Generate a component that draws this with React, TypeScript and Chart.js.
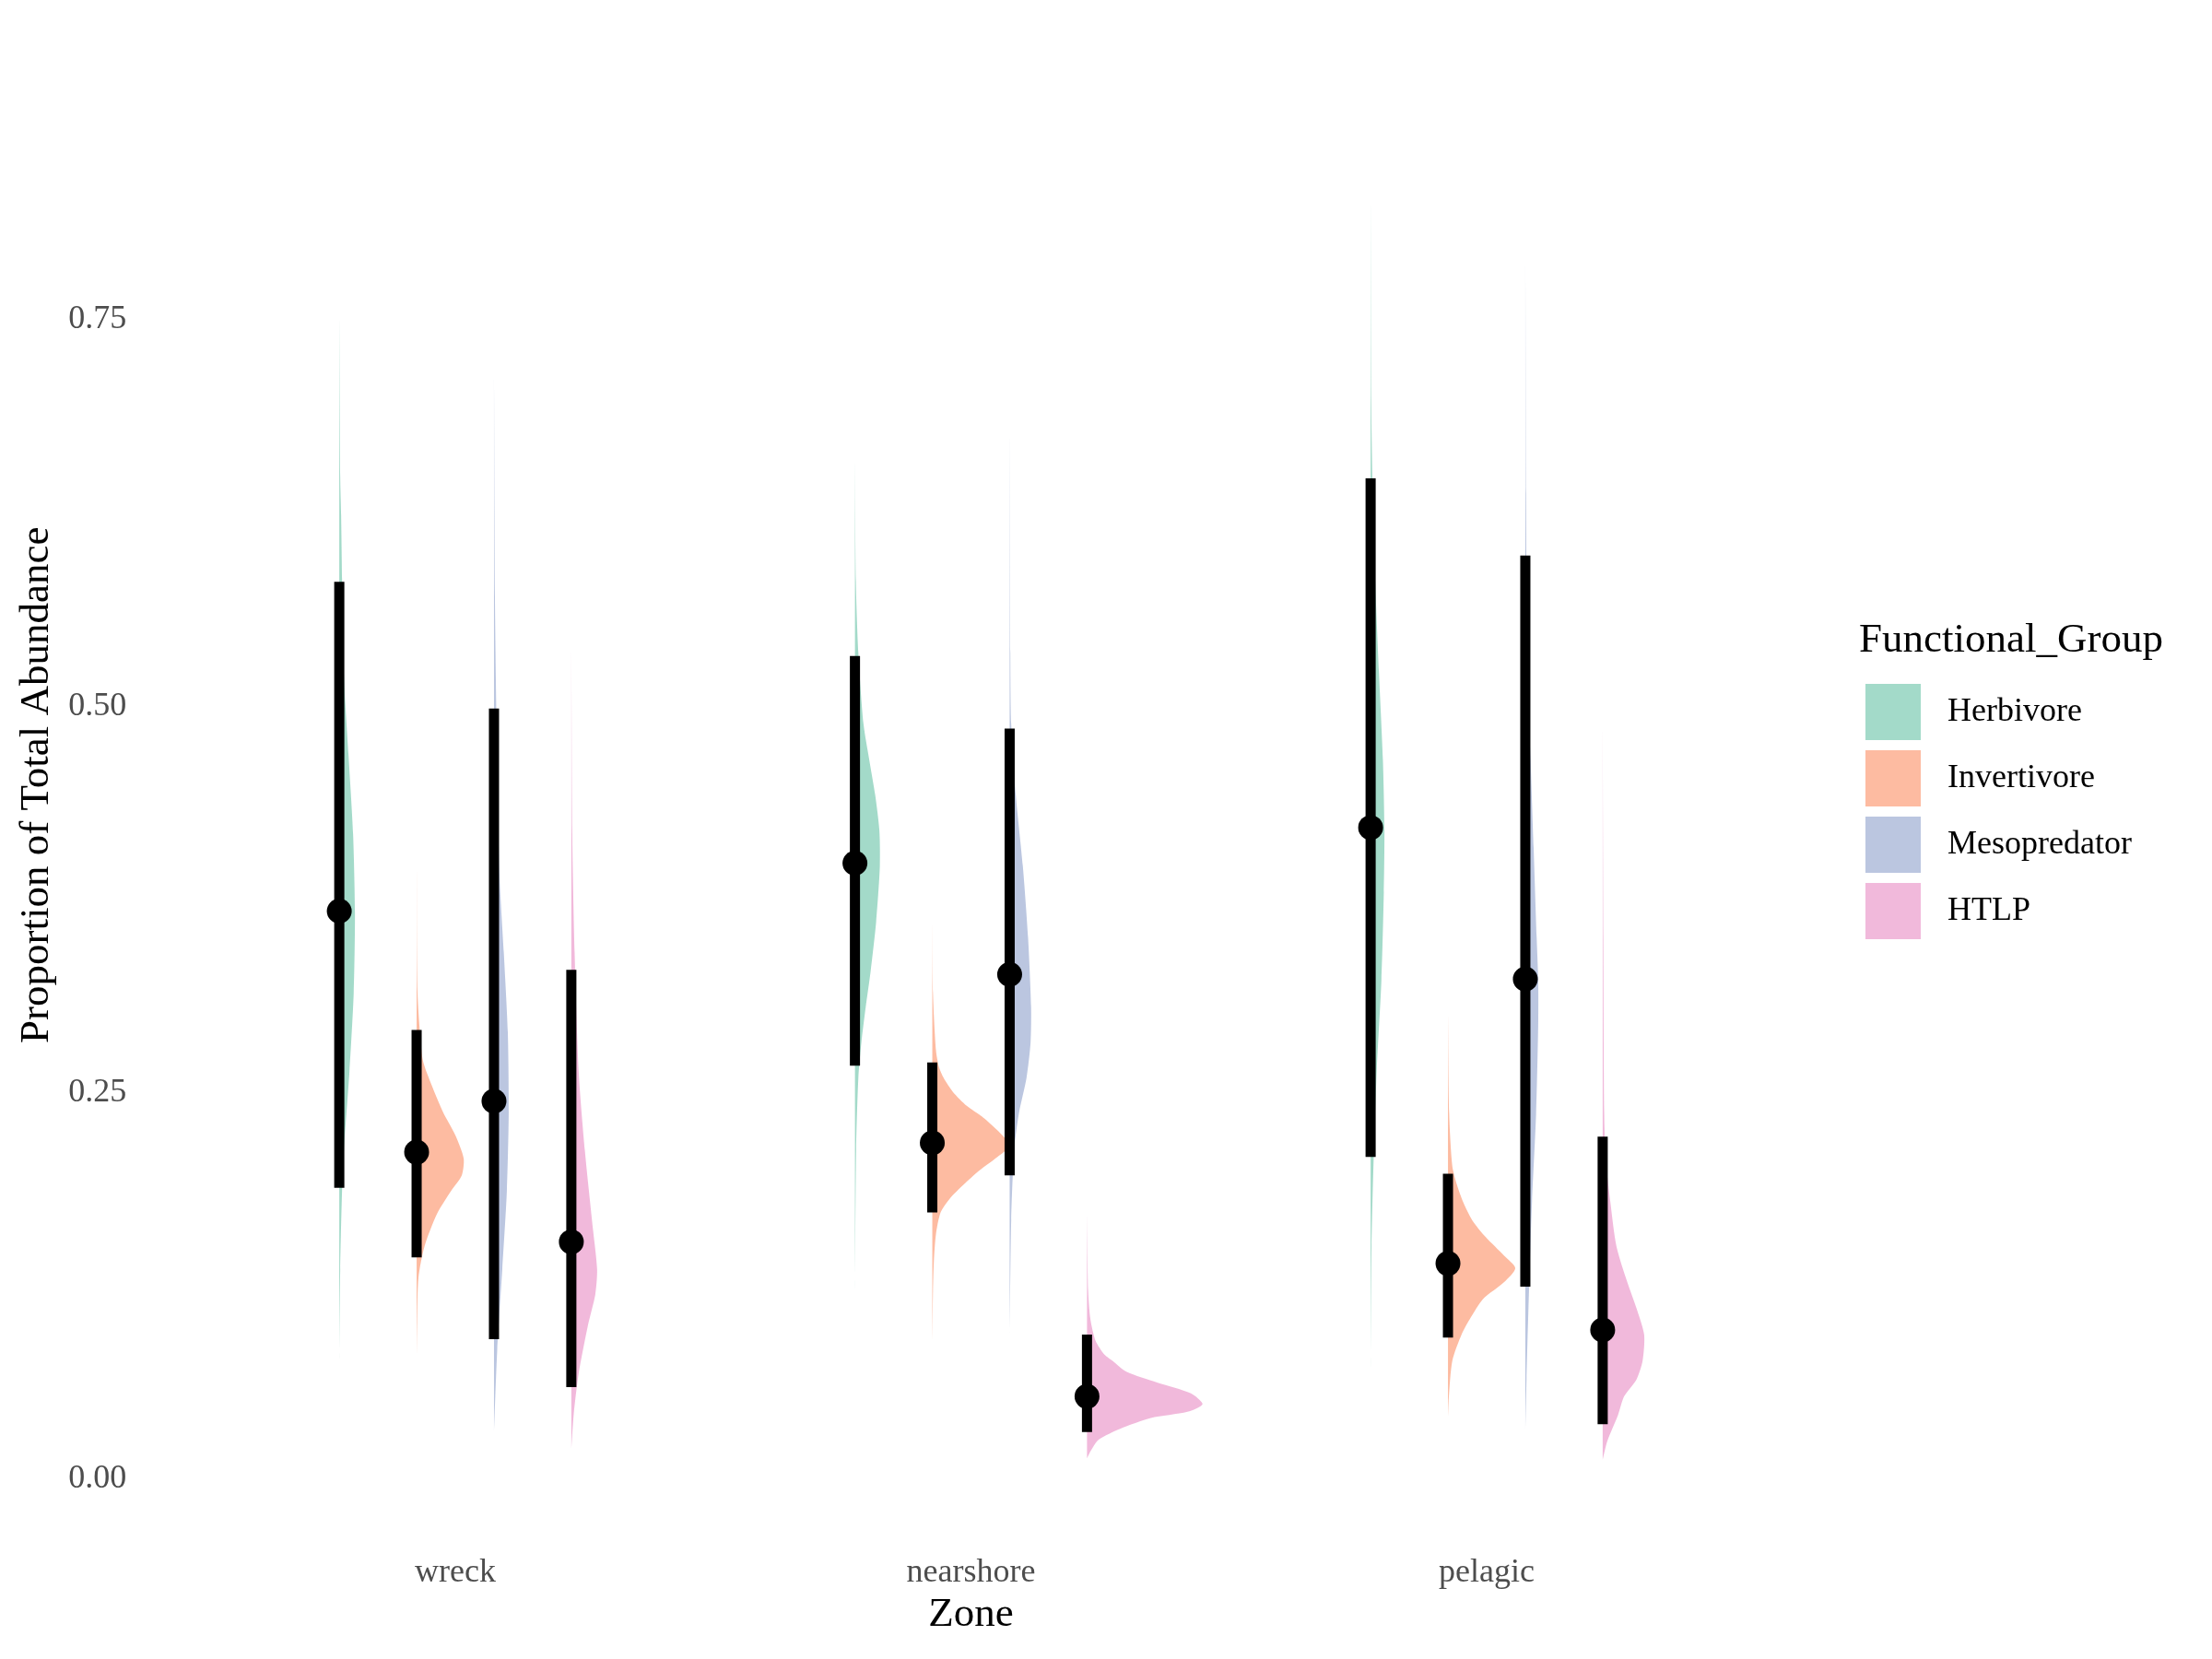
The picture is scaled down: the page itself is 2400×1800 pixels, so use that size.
import React, { useEffect, useRef } from "react";
import { Chart, registerables } from "chart.js";

Chart.register(...registerables);

const FONT = "'Liberation Serif', 'Times New Roman', serif";
const TITLE_SIZE = 45;
const TEXT_SIZE = 36;

const zones = ["wreck", "nearshore", "pelagic"];
const groups = ["Herbivore", "Invertivore", "Mesopredator", "HTLP"];
const groupFill = [
  "rgba(102,194,165,0.6)",
  "rgba(252,141,98,0.6)",
  "rgba(141,160,203,0.6)",
  "rgba(231,138,195,0.6)",
];
const yTickValues = [0, 0.25, 0.5, 0.75];
const yTickLabels = ["0.00", "0.25", "0.50", "0.75"];

// point (median) and interval ends per zone (wreck, nearshore, pelagic)
const herbivoreLower = [0.187, 0.266, 0.207];
const herbivoreMedian = [0.366, 0.397, 0.42];
const herbivoreUpper = [0.579, 0.531, 0.646];
const invertivoreLower = [0.142, 0.171, 0.09];
const invertivoreMedian = [0.21, 0.216, 0.138];
const invertivoreUpper = [0.289, 0.268, 0.196];
const mesopredatorLower = [0.089, 0.195, 0.123];
const mesopredatorMedian = [0.243, 0.325, 0.322];
const mesopredatorUpper = [0.497, 0.484, 0.596];
const htlpLower = [0.058, 0.029, 0.034];
const htlpMedian = [0.152, 0.052, 0.095];
const htlpUpper = [0.328, 0.092, 0.22];

// density profiles: [value, half-eye width in category units]
const wreckHerbivore = [
  [0.075, 0], [0.134, 0.0018], [0.185, 0.0054], [0.211, 0.0089], [0.262, 0.0197],
  [0.313, 0.028], [0.365, 0.0304], [0.416, 0.0268], [0.467, 0.0179], [0.519, 0.0089],
  [0.581, 0.0054], [0.622, 0.0036], [0.647, 0.0018], [0.752, 0],
];
const wreckInvertivore = [
  [0.075, 0], [0.1, 0.0009], [0.129, 0.0036], [0.149, 0.0152], [0.17, 0.0393],
  [0.185, 0.067], [0.195, 0.0876], [0.206, 0.0912], [0.221, 0.0751], [0.236, 0.0511],
  [0.262, 0.0191], [0.272, 0.0107], [0.313, 0.0018], [0.396, 0],
];
const wreckMesopredator = [
  [0.028, 0], [0.082, 0.0063], [0.134, 0.0161], [0.185, 0.025], [0.236, 0.0286],
  [0.288, 0.0268], [0.339, 0.0191], [0.39, 0.0107], [0.493, 0.0048], [0.57, 0.0018],
  [0.715, 0],
];
const wreckHTLP = [
  [0.018, 0], [0.041, 0.0048], [0.067, 0.0143], [0.098, 0.0322], [0.118, 0.0465],
  [0.134, 0.05], [0.159, 0.0424], [0.211, 0.0263], [0.262, 0.0143], [0.339, 0.0064],
  [0.416, 0.0018], [0.54, 0],
];
const nearshoreHerbivore = [
  [0.12, 0], [0.212, 0.0023], [0.258, 0.0066], [0.281, 0.0125], [0.304, 0.0209],
  [0.327, 0.0304], [0.359, 0.0411], [0.395, 0.0483], [0.418, 0.0474], [0.441, 0.0393],
  [0.464, 0.0277], [0.487, 0.0166], [0.533, 0.0066], [0.579, 0.0018], [0.66, 0],
];
const nearshoreInvertivore = [
  [0.084, 0], [0.12, 0.0013], [0.139, 0.003], [0.157, 0.0071], [0.171, 0.0161],
  [0.18, 0.034], [0.189, 0.0608], [0.198, 0.0906], [0.207, 0.1264], [0.214, 0.1501],
  [0.219, 0.1412], [0.226, 0.1203], [0.233, 0.0965], [0.24, 0.0667], [0.249, 0.0399],
  [0.258, 0.022], [0.265, 0.013], [0.276, 0.0071], [0.313, 0.0013], [0.36, 0],
];
const nearshoreMesopredator = [
  [0.09, 0], [0.166, 0.003], [0.212, 0.0089], [0.235, 0.0179], [0.258, 0.0327],
  [0.281, 0.0406], [0.304, 0.0416], [0.349, 0.0357], [0.395, 0.0256], [0.441, 0.012],
  [0.487, 0.003], [0.533, 0.0013], [0.68, 0],
];
const nearshoreHTLP = [
  [0.012, 0], [0.017, 0.0077], [0.024, 0.0227], [0.031, 0.0643], [0.038, 0.1239],
  [0.042, 0.1948], [0.047, 0.224], [0.054, 0.2014], [0.061, 0.1358], [0.068, 0.0763],
  [0.075, 0.0495], [0.079, 0.034], [0.088, 0.0166], [0.102, 0.0066], [0.12, 0.0023],
  [0.17, 0],
];
const pelagicHerbivore = [
  [0.07, 0], [0.149, 0.0018], [0.206, 0.0059], [0.264, 0.012], [0.321, 0.0209],
  [0.378, 0.0256], [0.418, 0.0268], [0.464, 0.0238], [0.521, 0.0161], [0.579, 0.0089],
  [0.636, 0.0041], [0.693, 0.0013], [0.83, 0],
];
const pelagicInvertivore = [
  [0.038, 0], [0.052, 0.0018], [0.075, 0.0084], [0.092, 0.0263], [0.103, 0.0441],
  [0.115, 0.0679], [0.126, 0.109], [0.135, 0.1305], [0.143, 0.109], [0.155, 0.0733],
  [0.166, 0.047], [0.178, 0.0291], [0.189, 0.0173], [0.201, 0.0084], [0.235, 0.0023],
  [0.3, 0],
];
const pelagicMesopredator = [
  [0.029, 0], [0.063, 0.0023], [0.12, 0.0071], [0.178, 0.013], [0.235, 0.0209],
  [0.292, 0.025], [0.321, 0.025], [0.349, 0.022], [0.407, 0.0161], [0.464, 0.0102],
  [0.521, 0.0041], [0.636, 0.0013], [0.792, 0],
];
const pelagicHTLP = [
  [0.011, 0], [0.023, 0.0089], [0.04, 0.0298], [0.052, 0.0416], [0.063, 0.0656],
  [0.075, 0.0774], [0.092, 0.0804], [0.109, 0.0656], [0.126, 0.0477], [0.149, 0.0268],
  [0.178, 0.0148], [0.206, 0.0059], [0.235, 0.003], [0.349, 0.0013], [0.49, 0],
];

const violinTable = [
  [wreckHerbivore, wreckInvertivore, wreckMesopredator, wreckHTLP],
  [nearshoreHerbivore, nearshoreInvertivore, nearshoreMesopredator, nearshoreHTLP],
  [pelagicHerbivore, pelagicInvertivore, pelagicMesopredator, pelagicHTLP],
];
const lowerTable = [herbivoreLower, invertivoreLower, mesopredatorLower, htlpLower];
const medianTable = [herbivoreMedian, invertivoreMedian, mesopredatorMedian, htlpMedian];
const upperTable = [herbivoreUpper, invertivoreUpper, mesopredatorUpper, htlpUpper];

const DODGE = 0.15;
const centerOf = (z: number, g: number) => z + 1 + (g - 1.5) * DODGE;

function makeSwatch(color: string) {
  const c = document.createElement("canvas");
  c.width = 100;
  c.height = 61;
  const ctx = c.getContext("2d");
  if (ctx) {
    ctx.fillStyle = color;
    ctx.fillRect(0, 0, 60, 61);
  }
  return c;
}

const legendBoxPlugin = {
  id: "legendBoxExtend",
  afterLayout(chart: any) {
    const lg = chart.legend;
    if (lg) {
      lg.right = chart.width;
      lg.width = lg.right - lg.left;
    }
  },
};

export default function App() {
  const ref = useRef<HTMLCanvasElement>(null);

  useEffect(() => {
    const canvas = ref.current;
    if (!canvas) return;
    const datasets: any[] = [];
    const swatches = groupFill.map(makeSwatch);

    zones.forEach((zone, z) => {
      groups.forEach((g, gi) => {
        const c = centerOf(z, gi);
        datasets.push({
          type: "scatter",
          label: `${zone} ${g} density`,
          data: violinTable[z][gi].map(([v, w]) => ({ x: c + w, y: v })),
          showLine: true,
          fill: "shape",
          backgroundColor: groupFill[gi],
          borderColor: "rgba(0,0,0,0)",
          borderWidth: 0,
          pointRadius: 0,
          tension: 0.25,
          order: 3,
        });
      });
    });

    zones.forEach((zone, z) => {
      groups.forEach((g, gi) => {
        const c = centerOf(z, gi);
        datasets.push({
          type: "scatter",
          label: `${zone} ${g} interval`,
          data: [
            { x: c, y: lowerTable[gi][z] },
            { x: c, y: upperTable[gi][z] },
          ],
          showLine: true,
          fill: false,
          borderColor: "#000000",
          borderWidth: 11,
          borderCapStyle: "butt",
          pointRadius: 0,
          order: 2,
        });
      });
    });

    groups.forEach((g, gi) => {
      datasets.push({
        type: "scatter",
        label: `${g} median`,
        data: zones.map((_, z) => ({ x: centerOf(z, gi), y: medianTable[gi][z] })),
        showLine: false,
        pointRadius: 13.5,
        pointBackgroundColor: "#000000",
        pointBorderWidth: 0,
        order: 1,
      });
    });

    const chart = new Chart(canvas, {
      type: "scatter",
      data: { datasets },
      plugins: [legendBoxPlugin],
      options: {
        responsive: false,
        animation: false,
        devicePixelRatio: 1,
        events: [],
        layout: { padding: { top: 41, right: 133, bottom: 0, left: 0 } },
        plugins: {
          tooltip: { enabled: false },
          legend: {
            display: true,
            position: "right",
            align: "start",
            maxWidth: 250,
            title: {
              display: true,
              text: "Functional_Group",
              color: "#000000",
              position: "start",
              font: { family: FONT, size: TITLE_SIZE },
              padding: { top: 632, bottom: -8.5 },
            },
            labels: {
              usePointStyle: true,
              pointStyleWidth: 42,
              boxHeight: TEXT_SIZE,
              padding: 36,
              color: "#000000",
              font: { family: FONT, size: TEXT_SIZE },
              generateLabels: () =>
                groups.map((g, i) => ({
                  text: g,
                  fillStyle: groupFill[i],
                  strokeStyle: groupFill[i],
                  pointStyle: swatches[i],
                  lineWidth: 0,
                  hidden: false,
                  datasetIndex: i,
                })),
            },
          },
        },
        scales: {
          x: {
            type: "linear",
            min: 0.4,
            max: 3.6,
            grid: { display: false, drawTicks: false },
            border: { display: false },
            afterBuildTicks: (s: any) => {
              s.ticks = zones.map((_, i) => ({ value: i + 1 }));
            },
            afterFit: (s: any) => {
              s.height = 139;
            },
            ticks: {
              padding: 24.3,
              color: "#4D4D4D",
              font: { family: FONT, size: TEXT_SIZE },
              maxRotation: 0,
              autoSkip: false,
              callback: (_v: any, i: number) => zones[i],
            },
            title: {
              display: true,
              text: "Zone",
              color: "#000000",
              font: { family: FONT, size: TITLE_SIZE },
              padding: { top: 0, bottom: 20.9 },
            },
          },
          y: {
            type: "linear",
            min: -0.035,
            max: 0.93,
            grid: { display: false, drawTicks: false },
            border: { display: false },
            afterBuildTicks: (s: any) => {
              s.ticks = yTickValues.map((v) => ({ value: v }));
            },
            afterFit: (s: any) => {
              s.width = 158.3;
            },
            ticks: {
              padding: 21,
              labelOffset: 2.5,
              color: "#4D4D4D",
              font: { family: FONT, size: TEXT_SIZE },
              callback: (_v: any, i: number) => yTickLabels[i],
            },
            title: {
              display: true,
              text: "Proportion of Total Abundance",
              color: "#000000",
              font: { family: FONT, size: TITLE_SIZE },
              padding: { top: 13.2, bottom: 0 },
            },
          },
          yRight: {
            type: "linear",
            position: "right",
            display: true,
            grid: { display: false, drawTicks: false },
            border: { display: false },
            ticks: { display: false },
            afterFit: (s: any) => {
              s.width = 68.3;
            },
          },
        },
      } as any,
    });

    return () => chart.destroy();
  }, []);

  return (
    <div
      style={{
        position: "fixed",
        left: 0,
        top: 0,
        width: 2400,
        height: 1800,
        background: "#ffffff",
      }}
    >
      <canvas ref={ref} width={2400} height={1800} style={{ display: "block" }} />
    </div>
  );
}
